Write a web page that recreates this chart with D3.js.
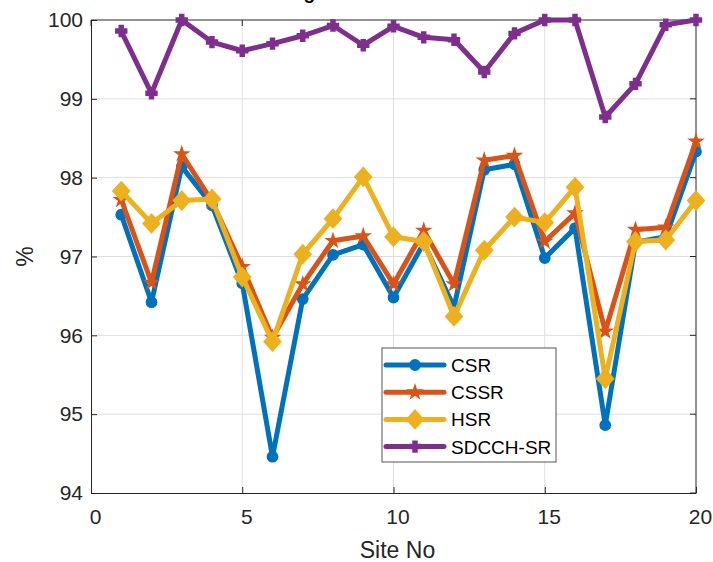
<!DOCTYPE html>
<html>
<head>
<meta charset="utf-8">
<script src="https://cdn.jsdelivr.net/npm/d3@7"></script>
<style>
  body { margin: 0; background: #fff; }
  text { font-family: "Liberation Sans", Arial, sans-serif; }
</style>
</head>
<body>
<div id="chart"></div>
<script>
// data
var sites = [1, 2, 3, 4, 5, 6, 7, 8, 9, 10, 11, 12, 13, 14, 15, 16, 17, 18, 19, 20];
var csr   = [97.53, 96.42, 98.14, 97.65, 96.66, 94.46, 96.46, 97.02, 97.15, 96.48, 97.17, 96.36, 98.10, 98.17, 96.98, 97.36, 94.86, 97.18, 97.25, 98.33];
var cssr  = [97.72, 96.67, 98.30, 97.70, 96.87, 95.97, 96.65, 97.20, 97.26, 96.65, 97.33, 96.65, 98.22, 98.28, 97.19, 97.55, 96.05, 97.34, 97.37, 98.46];
var hsr   = [97.83, 97.42, 97.71, 97.73, 96.74, 95.92, 97.03, 97.48, 98.01, 97.25, 97.19, 96.24, 97.08, 97.50, 97.43, 97.88, 95.45, 97.19, 97.21, 97.71];
var sdcch = [99.86, 99.07, 100.0, 99.72, 99.61, 99.70, 99.80, 99.93, 99.68, 99.92, 99.78, 99.75, 99.34, 99.83, 100.0, 100.0, 98.77, 99.19, 99.94, 100.0];
var seriesNames = ["CSR", "CSSR", "HSR", "SDCCH-SR"];
var xTicks = [0, 5, 10, 15, 20];
var yTicks = [94, 95, 96, 97, 98, 99, 100];

var svgWidth = 713;
var svgHeight = 562;
var margin = { top: 20, bottom: 69, right: 17, left: 91 };
var width = svgWidth - margin.left - margin.right;
var height = svgHeight - margin.top - margin.bottom;

var svg = d3.select("#chart")
    .append("svg")
    .attr("width", svgWidth)
    .attr("height", svgHeight);

// title, only its descenders peek into the window
svg.append("text")
    .attr("x", margin.left + width / 2)
    .attr("y", -1)
    .attr("text-anchor", "middle")
    .style("font-size", "19px")
    .style("font-weight", "bold")
    .text("Average Success Rates of KPIs");

var chartGroup = svg.append("g")
    .attr("transform", `translate(${margin.left}, ${margin.top})`);

var x = d3.scaleLinear().domain([0, 20]).range([0, width]);
var y = d3.scaleLinear().domain([94, 100]).range([height, 0]);

// grid
chartGroup.append("g")
    .selectAll("line")
    .data(xTicks.slice(1, -1))
    .enter()
    .append("line")
    .attr("x1", d => x(d)).attr("x2", d => x(d))
    .attr("y1", 0).attr("y2", height)
    .attr("stroke", "#dedede").attr("stroke-width", 1);

chartGroup.append("g")
    .selectAll("line")
    .data(yTicks.slice(1, -1))
    .enter()
    .append("line")
    .attr("x1", 0).attr("x2", width)
    .attr("y1", d => y(d)).attr("y2", d => y(d))
    .attr("stroke", "#dedede").attr("stroke-width", 1);

// axes, ticks inward
var bottomAxis = d3.axisBottom(x).tickValues(xTicks).tickFormat(d3.format("d"))
    .tickSizeInner(-6).tickSizeOuter(0).tickPadding(16);
var leftAxis = d3.axisLeft(y).tickValues(yTicks).tickFormat(d3.format("d"))
    .tickSizeInner(-6).tickSizeOuter(0).tickPadding(8);

var xAxis = chartGroup.append("g")
    .attr("transform", `translate(0, ${height})`)
    .call(bottomAxis);
var yAxis = chartGroup.append("g").call(leftAxis);

[xAxis, yAxis].forEach(function(g) {
    g.selectAll("text").style("font-size", "21px").attr("fill", "#262626");
    g.selectAll("line").attr("stroke", "#262626");
    g.select(".domain").attr("stroke", "#262626");
});
xAxis.selectAll("text").attr("dx", 4);

// box: top and right edges, with ticks
chartGroup.append("line")
    .attr("x1", 0).attr("x2", width).attr("y1", 0).attr("y2", 0)
    .attr("stroke", "#262626");
chartGroup.append("line")
    .attr("x1", width).attr("x2", width).attr("y1", 0).attr("y2", height)
    .attr("stroke", "#262626");
chartGroup.append("g")
    .selectAll("line")
    .data(yTicks)
    .enter()
    .append("line")
    .attr("x1", width - 6).attr("x2", width)
    .attr("y1", d => y(d)).attr("y2", d => y(d))
    .attr("stroke", "#262626");
chartGroup.append("g")
    .selectAll("line")
    .data(xTicks)
    .enter()
    .append("line")
    .attr("x1", d => x(d)).attr("x2", d => x(d))
    .attr("y1", 0).attr("y2", 6)
    .attr("stroke", "#262626");

// axis labels
svg.append("text")
    .attr("x", margin.left + width / 2 + 4)
    .attr("y", 558)
    .attr("text-anchor", "middle")
    .style("font-size", "23px")
    .attr("fill", "#262626")
    .text("Site No");

svg.append("text")
    .attr("transform", `translate(33, ${margin.top + height / 2}) rotate(-90)`)
    .attr("text-anchor", "middle")
    .style("font-size", "23px")
    .attr("fill", "#262626")
    .text("%");

// series
var diamond = {
    draw: function(ctx, size) {
        var r = Math.sqrt(size / 2);
        ctx.moveTo(0, -r);
        ctx.lineTo(r * 0.9, 0);
        ctx.lineTo(0, r);
        ctx.lineTo(-r * 0.9, 0);
        ctx.closePath();
    }
};

var series = [
    { name: seriesNames[0], values: csr,   color: "#0072BD", symbol: d3.symbolCircle, size: 75 },
    { name: seriesNames[1], values: cssr,  color: "#D95319", symbol: d3.symbolStar,   size: 40 },
    { name: seriesNames[2], values: hsr,   color: "#EDB120", symbol: diamond,         size: 160 },
    { name: seriesNames[3], values: sdcch, color: "#7E2F8E", symbol: d3.symbolCross,  size: 60 }
];

var line = d3.line()
    .x((d, i) => x(sites[i]))
    .y(d => y(d));

series.forEach(function(s) {
    var g = chartGroup.append("g");
    g.append("path")
        .datum(s.values)
        .attr("d", line)
        .attr("fill", "none")
        .attr("stroke", s.color)
        .attr("stroke-width", 5)
        .attr("stroke-linejoin", "round");
    g.selectAll("path.marker")
        .data(s.values)
        .enter()
        .append("path")
        .attr("class", "marker")
        .attr("d", d3.symbol().type(s.symbol).size(s.size))
        .attr("transform", (d, i) => `translate(${x(sites[i])}, ${y(d)})`)
        .attr("fill", s.color)
        .attr("stroke", s.color)
        .attr("stroke-width", 2);
});

// legend
var legend = svg.append("g").attr("transform", "translate(382, 348)");
legend.append("rect")
    .attr("width", 174).attr("height", 114)
    .attr("fill", "#fff")
    .attr("stroke", "#555").attr("stroke-width", 1);

series.forEach(function(s, i) {
    var row = legend.append("g").attr("transform", `translate(0, ${17 + i * 27.2})`);
    row.append("line")
        .attr("x1", 4).attr("x2", 62)
        .attr("stroke", s.color)
        .attr("stroke-width", 5)
        .attr("stroke-linecap", "round");
    row.append("path")
        .attr("d", d3.symbol().type(s.symbol).size(s.size))
        .attr("transform", "translate(33, 0)")
        .attr("fill", s.color)
        .attr("stroke", s.color)
        .attr("stroke-width", 2);
    row.append("text")
        .attr("x", 69)
        .attr("y", 7)
        .style("font-size", "19px")
        .attr("fill", "#000")
        .text(s.name);
});
</script>
</body>
</html>
